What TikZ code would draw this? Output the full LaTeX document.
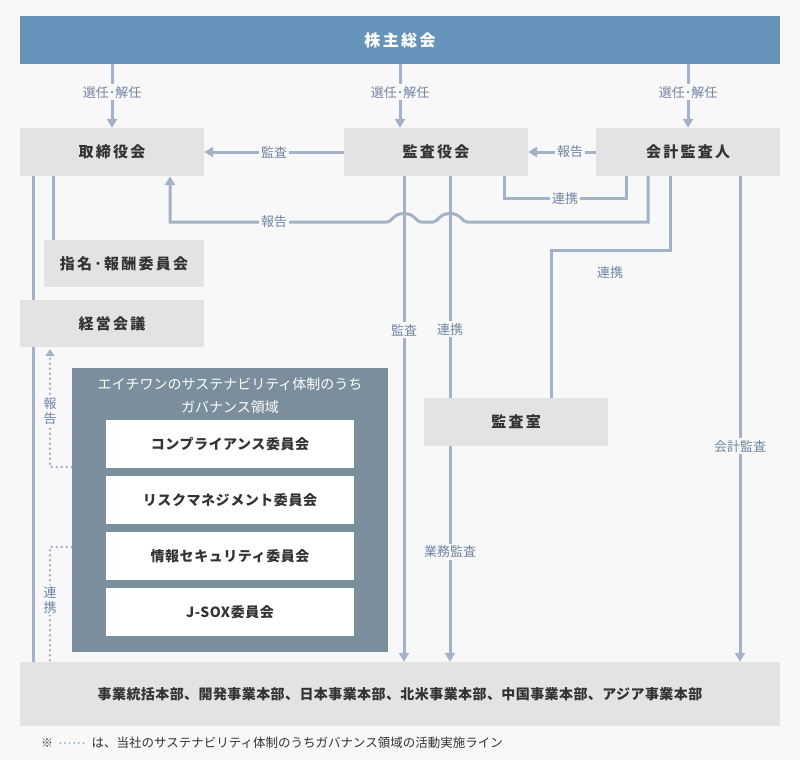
\documentclass[tikz,border=0pt]{standalone}
\usepackage{fontspec}
\setmainfont{Noto Sans CJK JP}
\usetikzlibrary{arrows.meta,backgrounds,calc}
\definecolor{bg}{HTML}{F8F8F8}
\definecolor{topblue}{HTML}{6693BA}
\definecolor{boxgray}{HTML}{E3E3E3}
\definecolor{linec}{HTML}{A4B2C7}
\definecolor{labc}{HTML}{7185A2}
\definecolor{govc}{HTML}{7A8F9B}
\definecolor{txt}{HTML}{333333}
\tikzset{
  conn/.style={draw=linec, line width=3pt},
  arr/.style={conn, -{Triangle[width=10pt,length=9pt]}},
  dots/.style={draw=linec, line width=2.8pt, line cap=round, dash pattern=on 0pt off 5pt},
  darr/.style={dots, -{Triangle[width=9pt,length=7pt]}},
  gbox/.style={fill=boxgray, inner sep=0pt, text=txt, minimum height=48pt,
    font=\bfseries\fontsize{15}{18}\selectfont\addfontfeature{LetterSpace=15}},
  wbox/.style={fill=white, inner sep=0pt, text=txt, minimum width=248pt, minimum height=48pt,
    font=\bfseries\fontsize{14}{17}\selectfont\addfontfeature{LetterSpace=4}},
  lab/.style={fill=bg, inner sep=2pt, text=labc, font=\fontsize{13}{15}\selectfont},
  vlab/.style={fill=bg, inner sep=1.5pt, text=labc, align=center, font=\fontsize{13}{15}\selectfont},
}
\begin{document}
\begin{tikzpicture}[x=1pt,y=-1pt]
\useasboundingbox (0,0) rectangle (800,760);
% nodes
\node[fill=topblue, text=white, minimum width=760pt, minimum height=48pt, inner sep=0pt,
  font=\bfseries\fontsize{16}{19}\selectfont\addfontfeature{LetterSpace=15}] (top) at (400,40) {株主総会};
\node[gbox, minimum width=184pt] (tori) at (112,152) {取締役会};
\node[gbox, minimum width=184pt] (kansa) at (436,152) {監査役会};
\node[gbox, minimum width=184pt] (kaikei) at (688,152) {会計監査人};
\node[gbox, minimum width=160pt, minimum height=47pt] (shimei) at (124,263.5) {指名･報酬委員会};
\node[gbox, minimum width=184pt, minimum height=47pt] (keiei) at (112,323.5) {経営会議};
\node[gbox, minimum width=184pt] (shitsu) at (516,422) {監査室};
\node[fill=govc, minimum width=316pt, minimum height=284pt, inner sep=0pt] (gov) at (230,510) {};
\node[text=white, align=center, font=\fontsize{14}{23}\selectfont] (govt) at (230,395.5)
  {エイチワンのサステナビリティ体制のうち\\ガバナンス領域};
\node[wbox] (c1) at (230,444) {コンプライアンス委員会};
\node[wbox] (c2) at (230,500) {リスクマネジメント委員会};
\node[wbox] (c3) at (230,556) {情報セキュリティ委員会};
\node[wbox] (c4) at (230,612) {J-SOX委員会};
\node[fill=boxgray, minimum width=760pt, minimum height=64pt, inner sep=0pt, text=txt,
  font=\bfseries\fontsize{14}{17}\selectfont\addfontfeature{LetterSpace=3}] (bottom) at (400,694)
  {事業統括本部、開発事業本部、日本事業本部、北米事業本部、中国事業本部、アジア事業本部};
% footnote
\node[anchor=west, inner sep=0pt, text=txt, font=\fontsize{12}{14}\selectfont] (note) at (41,743) {※};
\coordinate (nd1) at ([xshift=7pt]note.east);
\coordinate (nd2) at ([xshift=34pt]note.east);
\node[anchor=west, inner sep=0pt, text=txt, font=\fontsize{12.5}{15}\selectfont] (notet) at ([xshift=38pt]note.east)
  {は、当社のサステナビリティ体制のうちガバナンス領域の活動実施ライン};
% coordinates
\coordinate (k2) at ([xshift=-36pt]kansa.north);
\coordinate (r1) at ([xshift=68pt]kansa.south);
\coordinate (r2) at ([xshift=-62pt]kaikei.south);
\coordinate (h0) at ([xshift=-40pt]kaikei.south);
\coordinate (h5) at ([xshift=58pt]tori.south);
\coordinate (v1) at ([xshift=-32pt]kansa.south);
\coordinate (v2) at ([xshift=14pt]kansa.south);
\coordinate (v3) at ([xshift=-66pt]shitsu.south);
\coordinate (w1) at ([xshift=-18pt]kaikei.south);
\coordinate (w2) at ([xshift=35pt]shitsu.north);
\coordinate (w3) at ([xshift=52pt]kaikei.south);
\coordinate (l1) at ([xshift=-79pt]tori.south);
\coordinate (l2) at ([xshift=-59pt]tori.south);
\coordinate (d1) at ([yshift=43pt]gov.west);
\coordinate (d2) at ([xshift=-62pt]keiei.south);
\coordinate (d3) at ([yshift=-37pt]gov.west);
\coordinate (d4) at ([xshift=-350pt]bottom.north);
\begin{scope}[on background layer]
\fill[bg] (0,0) rectangle (800,760);
% election arrows
\draw[arr] (top.south -| tori) -- node[lab, pos=0.44] {選任･解任} (tori.north);
\draw[arr] (top.south -| k2) -- node[lab, pos=0.44] {選任･解任} (k2);
\draw[arr] (top.south -| kaikei) -- node[lab, pos=0.44] {選任･解任} (kaikei.north);
% horizontal
\draw[arr] (kansa.west) -- node[lab] {監査} (tori.east);
\draw[arr] (kaikei.west) -- node[lab, pos=0.38] {報告} (kansa.east);
\draw[conn] (r1) -- ++(0,22) -| node[lab, pos=0.25] {連携} (r2);
% report with hops
\draw[arr] (h0) -- ++(0,46) -- (467,222)
  .. controls (462,222) and (461,213.5) .. (450,213.5)
  .. controls (439,213.5) and (438,222) .. (433,222) -- (421,222)
  .. controls (416,222) and (415,213.5) .. (404,213.5)
  .. controls (393,213.5) and (392,222) .. (387,222)
  -| node[lab, pos=0.26] {報告} (h5);
% verticals from kansa
\draw[arr] (v1) -- node[lab, pos=0.317] {監査} (v1 |- bottom.north);
\draw[conn] (v2) -- node[lab, pos=0.69] {連携} (v2 |- shitsu.north);
\draw[arr] (v3) -- node[lab, pos=0.49] {業務監査} (v3 |- bottom.north);
% from kaikei
\draw[conn] (w1) -- ++(0,74) -| (w2);
\draw[arr] (w3) -- node[lab, pos=0.556] {会計監査} (w3 |- bottom.north);
% left lines
\draw[conn] (l1) -- (l1 |- bottom.north);
\draw[conn] (l2) -- (l2 |- shimei.north);
% dotted
\draw[darr, shorten >=2pt] (d1) -| (d2);
\draw[dots] (d3) -| (d4);
\draw[dots, line width=2.2pt, dash pattern=on 0pt off 4.6pt] (nd1) -- (nd2);
\end{scope}
\node[vlab] at ($(d2)+(0,64)$) {報\\告};
\node[vlab] at ($(d4)+(0,-62)$) {連\\携};
\node[lab, fill=none] at ($(w1)+(-60,96)$) {連携};
\end{tikzpicture}
\end{document}
